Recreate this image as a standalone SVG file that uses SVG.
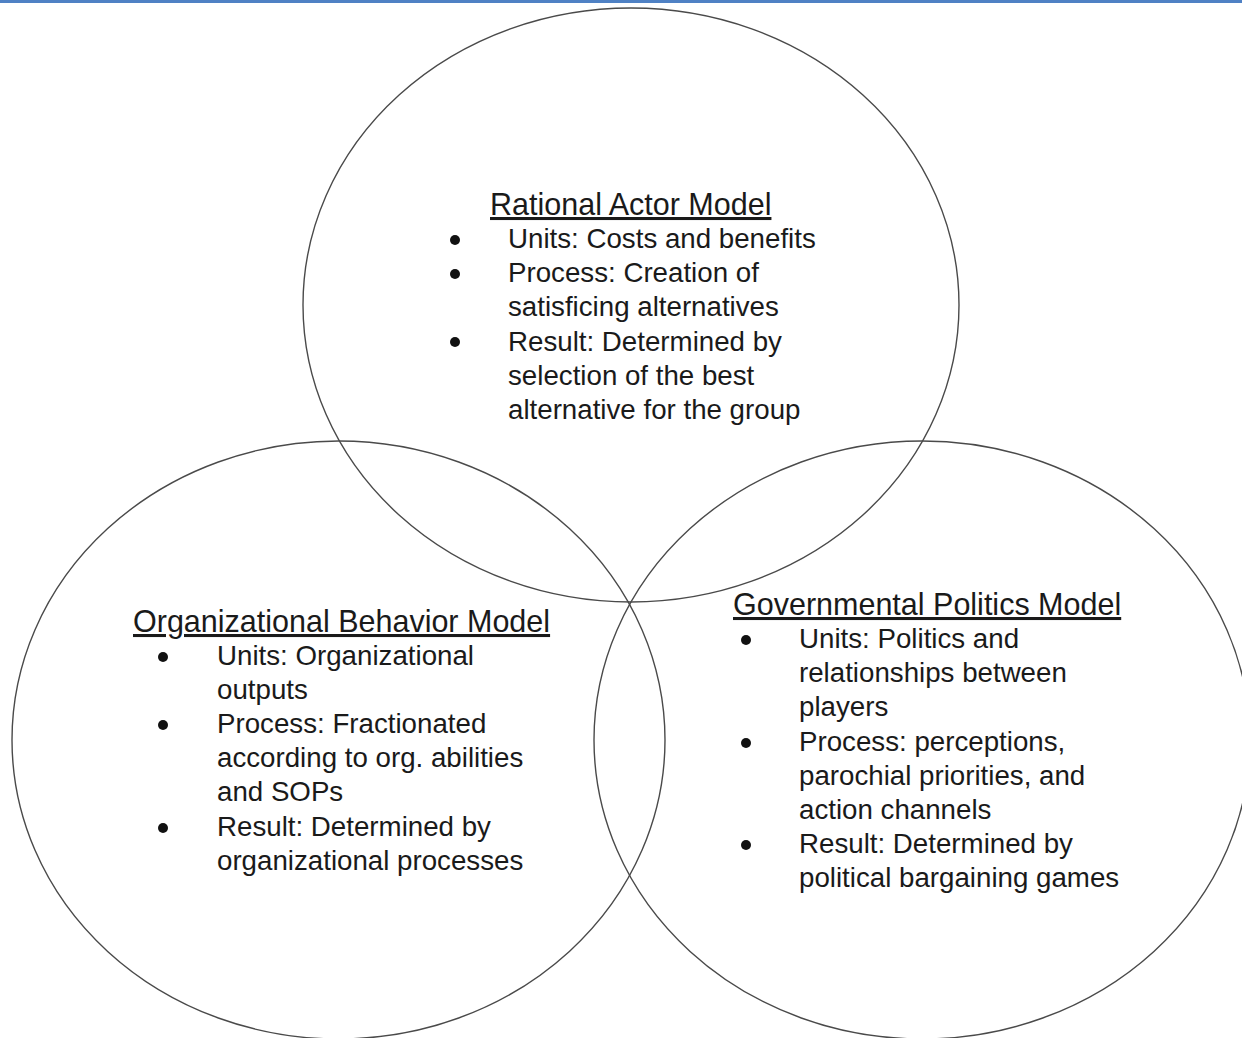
<svg xmlns="http://www.w3.org/2000/svg" width="1242" height="1038" viewBox="0 0 1242 1038">
<style>
.c{fill:none;stroke:#4a4a4a;stroke-width:1.4}
.t{font-family:"Liberation Sans",Arial,sans-serif;font-size:30.5px;fill:#1a1a1a;text-decoration:underline}
.b{font-family:"Liberation Sans",Arial,sans-serif;font-size:27.7px;fill:#1a1a1a}
.d{fill:#111}
</style>
<rect x="0" y="0" width="1242" height="1038" fill="#ffffff"/>
<rect x="0" y="0" width="1242" height="3" fill="#4f81c4"/>
<g id="connectors"></g>
<g id="rational">
<ellipse class="c" cx="631" cy="305" rx="328" ry="297"/>
<text class="t" x="490" y="215">Rational Actor Model</text>
<circle class="d" cx="455" cy="240" r="5"/>
<circle class="d" cx="455" cy="274" r="5"/>
<circle class="d" cx="455" cy="342" r="5"/>
<text class="b" x="508" y="248">Units: Costs and benefits</text>
<text class="b" x="508" y="282">Process: Creation of</text>
<text class="b" x="508" y="316">satisficing alternatives</text>
<text class="b" x="508" y="351">Result: Determined by</text>
<text class="b" x="508" y="385">selection of the best</text>
<text class="b" x="508" y="419">alternative for the group</text>
</g>
<g id="organizational">
<ellipse class="c" cx="338.5" cy="740" rx="326.5" ry="299"/>
<text class="t" x="133" y="632">Organizational Behavior Model</text>
<circle class="d" cx="163" cy="657" r="5"/>
<circle class="d" cx="163" cy="725" r="5"/>
<circle class="d" cx="163" cy="828" r="5"/>
<text class="b" x="217" y="665">Units: Organizational</text>
<text class="b" x="217" y="699">outputs</text>
<text class="b" x="217" y="733">Process: Fractionated</text>
<text class="b" x="217" y="767">according to org. abilities</text>
<text class="b" x="217" y="801">and SOPs</text>
<text class="b" x="217" y="836">Result: Determined by</text>
<text class="b" x="217" y="870">organizational processes</text>
</g>
<g id="governmental">
<ellipse class="c" cx="922" cy="740" rx="328" ry="299"/>
<text class="t" x="733" y="615">Governmental Politics Model</text>
<circle class="d" cx="746" cy="640" r="5"/>
<circle class="d" cx="746" cy="743" r="5"/>
<circle class="d" cx="746" cy="845" r="5"/>
<text class="b" x="799" y="648">Units: Politics and</text>
<text class="b" x="799" y="682">relationships between</text>
<text class="b" x="799" y="716">players</text>
<text class="b" x="799" y="751">Process: perceptions,</text>
<text class="b" x="799" y="785">parochial priorities, and</text>
<text class="b" x="799" y="819">action channels</text>
<text class="b" x="799" y="853">Result: Determined by</text>
<text class="b" x="799" y="887">political bargaining games</text>
</g>
</svg>
